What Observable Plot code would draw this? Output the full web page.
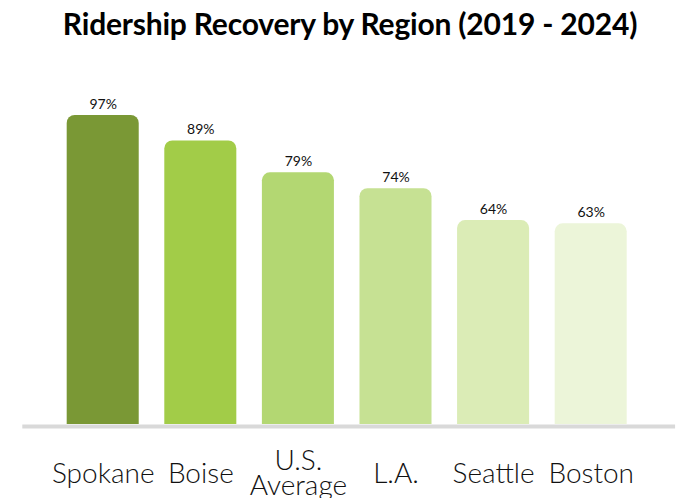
<!DOCTYPE html>
<html>
<head>
<meta charset="utf-8">
<script src="https://cdn.jsdelivr.net/npm/d3@7"></script>
<script src="https://cdn.jsdelivr.net/npm/@observablehq/plot@0.6"></script>
<style>
  body { margin: 0; background: #fff; width: 684px; height: 498px; overflow: hidden; }
  #title { height: 50px; line-height: 46px; text-align: center; font-family: Lato, "Open Sans", sans-serif; font-weight: 700; font-size: 30px; color: #000; padding-left: 16px; letter-spacing: -0.2px; }
  svg { display: block; }
</style>
</head>
<body>
<div id="title">Ridership Recovery by Region (2019 - 2024)</div>
<div id="chart"></div>
<script>
const regions = ["Spokane", "Boise", "U.S. Average", "L.A.", "Seattle", "Boston"];
const tickLabels = ["Spokane", "Boise", "U.S.\nAverage", "L.A.", "Seattle", "Boston"];
const recovery = [97, 89, 79, 74, 64, 63];
const barColors = ["#7a9835", "#a2cc48", "#b3d772", "#c6e193", "#dbecb6", "#ecf5d9"];

const data = regions.map((r, i) => ({region: r, label: tickLabels[i], value: recovery[i], color: barColors[i]}));

const chart = Plot.plot({
  width: 684,
  height: 448,
  marginLeft: 42.3,
  marginRight: 32.9,
  marginTop: 55.4,
  marginBottom: 74,
  style: {fontFamily: "Lato, 'Open Sans', sans-serif", background: "#fff"},
  x: {domain: regions, paddingInner: 0.262, paddingOuter: 0.25, round: false, axis: null},
  y: {domain: [0, 100], axis: null},
  color: {type: "identity"},
  marks: [
    Plot.barY(data, {x: "region", y: "value", fill: "color", rx: 8, insetBottom: -12, clip: true}),
    Plot.ruleY([0], {stroke: "#d9d9d9", strokeWidth: 4, insetLeft: -20, insetRight: -24, dy: 2}),
    Plot.text(data, {x: "region", y: "value", text: d => d.value + "%", dy: -11, fontSize: 14, fill: "#111"}),
    Plot.text(data, {x: "region", y: 0, text: "label", dy: 50, fontSize: 28, fontWeight: 300, lineHeight: 0.9, fill: "#111"})
  ]
});
document.getElementById("chart").appendChild(chart);
</script>
</body>
</html>
